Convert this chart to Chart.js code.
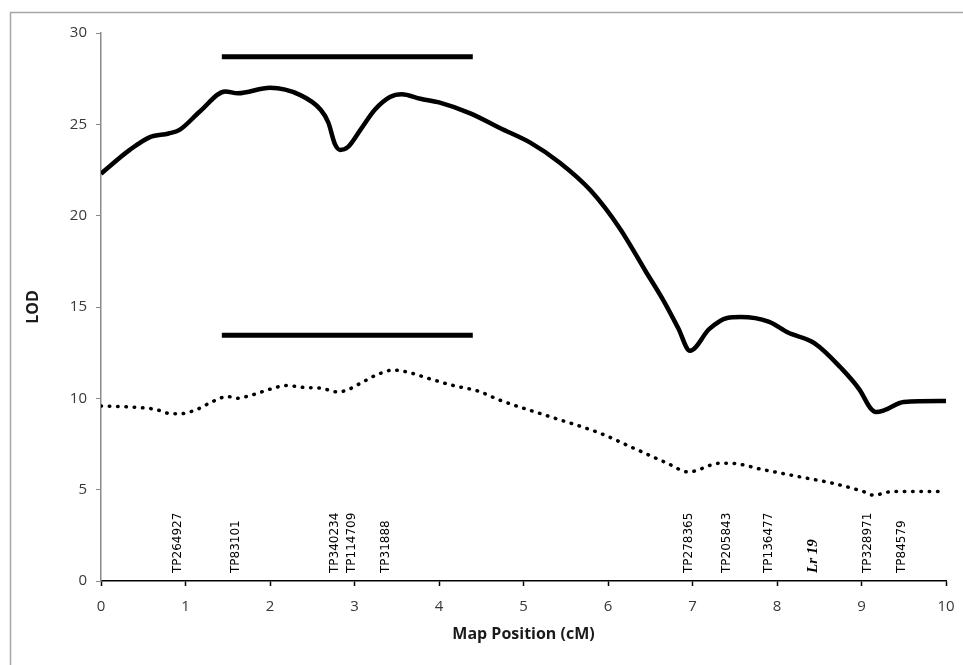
<!DOCTYPE html>
<html>
<head>
<meta charset="utf-8">
<script src="https://cdn.jsdelivr.net/npm/chart.js@4.4.1/dist/chart.umd.min.js"></script>
<style>
  html, body { margin: 0; padding: 0; background: #ffffff; }
  #wrap { position: relative; width: 963px; height: 665px; }
</style>
</head>
<body>
<div id="wrap"><canvas id="c" width="963" height="665"></canvas></div>
<script>
// ---- Data ----
const solidPos = [0, 0.34, 0.58, 0.8, 0.93, 1.17, 1.47, 1.62, 2.0, 2.36, 2.6, 2.69, 2.77, 2.83, 2.92, 3.07, 3.24, 3.42, 3.56, 3.78, 4.0, 4.37, 4.72, 5.08, 5.43, 5.79, 6.14, 6.44, 6.65, 6.83, 6.97, 7.2, 7.41, 7.57, 7.9, 8.13, 8.45, 8.75, 8.98, 9.1, 9.17, 9.27, 9.5, 10];
const solidLod = [22.3, 23.6, 24.3, 24.5, 24.7, 25.7, 26.8, 26.7, 27.0, 26.6, 25.8, 25.1, 23.9, 23.6, 23.75, 24.7, 25.8, 26.5, 26.65, 26.4, 26.2, 25.6, 24.8, 24.0, 22.9, 21.4, 19.3, 17.0, 15.4, 13.85, 12.6, 13.8, 14.4, 14.45, 14.2, 13.6, 13.0, 11.7, 10.45, 9.5, 9.25, 9.35, 9.8, 9.85];

const dottedPos = [0, 0.44, 0.64, 0.84, 0.93, 1.14, 1.31, 1.5, 1.6, 1.8, 2.0, 2.2, 2.39, 2.61, 2.8, 2.91, 3.1, 3.27, 3.46, 3.66, 3.87, 4.17, 4.46, 4.72, 5.31, 5.9, 6.29, 6.7, 6.95, 7.33, 7.44, 7.83, 8.27, 8.66, 9.02, 9.14, 9.37, 9.95];
const dottedLod = [9.58, 9.5, 9.4, 9.15, 9.15, 9.4, 9.8, 10.1, 10.0, 10.2, 10.5, 10.7, 10.6, 10.55, 10.35, 10.45, 10.9, 11.3, 11.55, 11.4, 11.1, 10.7, 10.4, 9.9, 9.0, 8.1, 7.3, 6.45, 5.97, 6.45, 6.45, 6.1, 5.7, 5.35, 4.9, 4.7, 4.9, 4.9];

const upperBarPos = [1.43, 4.4];
const upperBarLod = [28.7, 28.7];
const lowerBarPos = [1.43, 4.4];
const lowerBarLod = [13.45, 13.45];

const markerNames = ["TP264927", "TP83101", "TP340234", "TP114709", "TP31888", "TP278365", "TP205843", "TP136477", "Lr 19", "TP328971", "TP84579"];
const markerPos   = [0.91, 1.6, 2.77, 2.97, 3.37, 6.96, 7.41, 7.9, 8.43, 9.07, 9.48];
const markerGene  = [false, false, false, false, false, false, false, false, true, false, false];

const xTicks = [0, 1, 2, 3, 4, 5, 6, 7, 8, 9, 10];
const yTicks = [0, 5, 10, 15, 20, 25, 30];

function pairs(xs, ys) { return xs.map((x, i) => ({ x: x, y: ys[i] })); }

const framePlugin = {
  id: 'frame',
  beforeDraw(chart) {
    const ctx = chart.ctx;
    ctx.save();
    ctx.fillStyle = '#ffffff';
    ctx.fillRect(0, 0, chart.width, chart.height);
    ctx.strokeStyle = '#a6a6a6';
    ctx.lineWidth = 1.5;
    ctx.strokeRect(10.5, 12.5, chart.width + 20, chart.height + 20);
    ctx.restore();
  }
};

const markerPlugin = {
  id: 'markers',
  afterDatasetsDraw(chart) {
    const ctx = chart.ctx;
    const xs = chart.scales.x;
    const ys = chart.scales.y;
    const baseY = ys.getPixelForValue(0) - 8;
    ctx.save();
    markerNames.forEach((name, i) => {
      const px = xs.getPixelForValue(markerPos[i]);
      ctx.save();
      ctx.translate(px, baseY);
      ctx.rotate(-Math.PI / 2);
      ctx.textAlign = 'left';
      ctx.textBaseline = 'middle';
      ctx.fillStyle = '#000000';
      if (markerGene[i]) {
        ctx.font = 'italic bold 15px "Liberation Serif", serif';
      } else {
        ctx.font = '12px "DejaVu Sans", sans-serif';
      }
      ctx.fillText(name, 0, 0);
      ctx.restore();
    });
    ctx.restore();
  }
};

const ctx = document.getElementById('c').getContext('2d');
new Chart(ctx, {
  type: 'line',
  data: {
    datasets: [
      {
        label: 'LOD',
        data: pairs(solidPos, solidLod),
        borderColor: '#000000',
        borderWidth: 4.5,
        pointRadius: 0,
        cubicInterpolationMode: 'monotone',
        fill: false
      },
      {
        label: 'LOD2',
        data: pairs(dottedPos, dottedLod),
        borderColor: '#000000',
        borderWidth: 3.5,
        borderDash: [0.5, 7.8],
        borderCapStyle: 'round',
        pointRadius: 0,
        cubicInterpolationMode: 'monotone',
        fill: false
      },
      {
        label: 'upper',
        data: pairs(upperBarPos, upperBarLod),
        borderColor: '#000000',
        borderWidth: 5,
        pointRadius: 0,
        fill: false
      },
      {
        label: 'lower',
        data: pairs(lowerBarPos, lowerBarLod),
        borderColor: '#000000',
        borderWidth: 5,
        pointRadius: 0,
        fill: false
      }
    ]
  },
  options: {
    responsive: false,
    animation: false,
    layout: { padding: { left: 0, top: 33, right: 17, bottom: 0 } },
    plugins: {
      legend: { display: false },
      tooltip: { enabled: false },
      title: { display: false }
    },
    scales: {
      x: {
        type: 'linear',
        min: 0,
        max: 10,
        afterBuildTicks(scale) { scale.ticks = xTicks.map(v => ({ value: v })); },
        afterFit(scale) { scale.height = 84; scale.paddingLeft = 0; scale.paddingRight = 0; },
        border: { color: '#000000', width: 1.5 },
        grid: { drawOnChartArea: false, drawTicks: true, tickLength: 5, color: '#000000', tickWidth: 1.5 },
        ticks: {
          color: '#383838',
          padding: 12,
          maxRotation: 0,
          font: { family: '"Open Sans", sans-serif', size: 15 }
        },
        title: {
          display: true,
          text: 'Map Position (cM)',
          color: '#1a1a1a',
          font: { family: '"Open Sans", sans-serif', size: 16, weight: 'bold' },
          padding: { top: 0, bottom: 21 }
        }
      },
      y: {
        type: 'linear',
        min: 0,
        max: 30,
        afterBuildTicks(scale) { scale.ticks = yTicks.map(v => ({ value: v })); },
        afterFit(scale) { scale.width = 101; scale.paddingTop = 0; scale.paddingBottom = 0; },
        border: { color: '#8a8a8a', width: 1.5 },
        grid: { drawOnChartArea: false, drawTicks: true, tickLength: 5, color: '#8a8a8a' },
        ticks: {
          color: '#383838',
          padding: 9,
          font: { family: '"Open Sans", sans-serif', size: 15 }
        },
        title: {
          display: true,
          text: 'LOD',
          color: '#1a1a1a',
          font: { family: '"Open Sans", sans-serif', size: 16, weight: 'bold' },
          padding: { top: 24, bottom: 0 }
        }
      }
    }
  },
  plugins: [framePlugin, markerPlugin]
});
</script>
</body>
</html>
